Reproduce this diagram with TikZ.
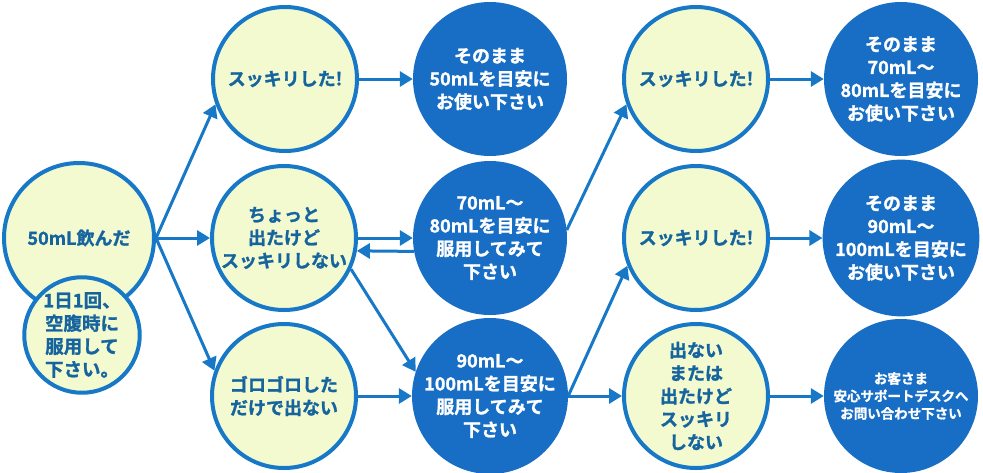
\documentclass[tikz,border=0pt]{standalone}
\usepackage{fontspec}
\usetikzlibrary{arrows.meta}
\newfontfamily\jp{Noto Sans CJK JP}[BoldFont={* Bold},BoldFeatures={FakeBold=1.3}]
\definecolor{cblue}{RGB}{22,120,198}
\definecolor{cdark}{RGB}{24,110,196}
\definecolor{cyel}{RGB}{244,250,208}
\definecolor{ctext}{RGB}{22,100,158}
\begin{document}
\begin{tikzpicture}[x=1pt,y=-1pt,
  yc/.style={circle,draw=cblue,line width=4pt,fill=cyel,text=ctext,minimum size=144pt,inner sep=0pt,align=center,font=\jp\bfseries\fontsize{18}{23}\selectfont},
  bc/.style={circle,fill=cdark,text=white,minimum size=154pt,inner sep=0pt,align=center,font=\jp\bfseries\fontsize{18}{23}\selectfont},
  arr/.style={draw=cblue,line width=3pt,-{Triangle[length=13pt,width=15pt]}}]
\useasboundingbox (0,0) rectangle (983,472);
\fill[white] (0,0) rectangle (983,472);
% column 1
\node[yc,minimum size=150pt] (s) at (79,238) {50mL飲んだ};
\node[yc,minimum size=102pt,font=\jp\bfseries\fontsize{18.5}{23}\selectfont] (sm) at (82,335) {1日1回、\\空腹時に\\服用して\\下さい。};
% column 2
\node[yc] (y1) at (285,79) {スッキリした!};
\node[yc] (y2) at (284,238) {ちょっと\\出たけど\\スッキリしない};
\node[yc] (y3) at (284,396) {ゴロゴロした\\だけで出ない};
% column 3
\node[bc] (b1) at (490,79) {そのまま\\50mLを目安に\\お使い下さい};
\node[bc] (b2) at (490,238) {70mL～\\80mLを目安に\\服用してみて\\下さい};
\node[bc] (b3) at (490,396) {90mL～\\100mLを目安に\\服用してみて\\下さい};
% column 4
\node[yc] (z1) at (696,79) {スッキリした!};
\node[yc] (z2) at (696,238) {スッキリした!};
\node[yc] (z3) at (696,396) {出ない\\または\\出たけど\\スッキリ\\しない};
% column 5
\node[bc] (c1) at (901,79) {そのまま\\70mL～\\80mLを目安に\\お使い下さい};
\node[bc] (c2) at (901,238) {そのまま\\90mL～\\100mLを目安に\\お使い下さい};
\node[bc,font=\jp\bfseries\fontsize{13.5}{17.5}\selectfont] (c3) at (901,396) {お客さま\\安心サポートデスクへ\\お問い合わせ下さい};
% arrows
\draw[arr] (s.east) -- (y1.200);
\draw[arr] (s.east) -- (y2.west);
\draw[arr] (s.east) -- (y3.160);
\draw[arr] (y1.east) -- (b1.west);
\draw[arr] (y2.east) -- (b2.west);
\draw[arr] (b2.190) -- (y2.-10);
\draw[arr] (y2.-25) -- (b3.162);
\draw[arr] (y3.east) -- (b3.west);
\draw[arr] (b2.6) -- (z1.200);
\draw[arr] (b3.east) -- (z2.202);
\draw[arr] (b3.east) -- (z3.west);
\draw[arr] (z1.east) -- (c1.west);
\draw[arr] (z2.east) -- (c2.west);
\draw[arr] (z3.east) -- (c3.west);
\end{tikzpicture}
\end{document}
